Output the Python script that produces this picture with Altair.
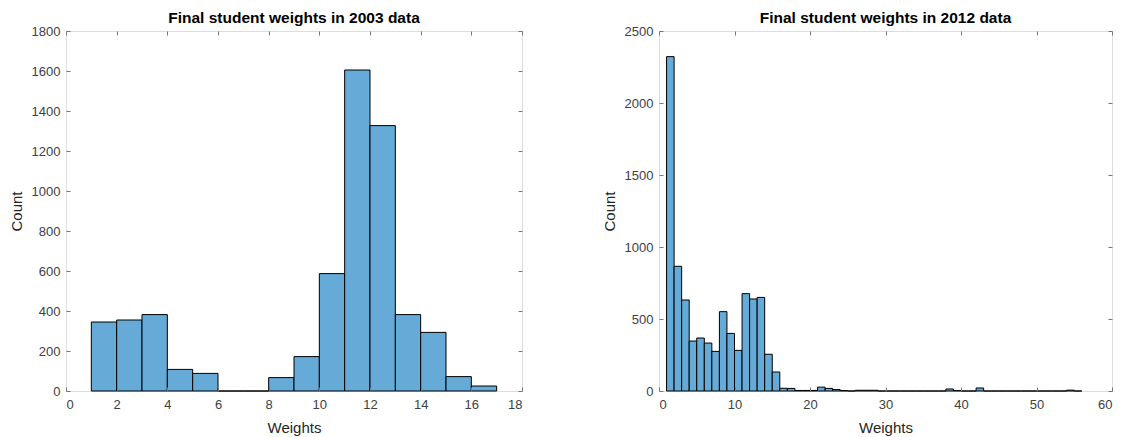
import altair as alt
import pandas as pd

# 2003 data: bin edges (width 1) and counts
bins_2003_start = [1, 2, 3, 4, 5, 6, 7, 8, 9, 10, 11, 12, 13, 14, 15, 16]
counts_2003 = [345, 355, 382, 108, 88, 0, 0, 67, 172, 587, 1605, 1327, 382, 293, 72, 25]

# 2012 data: bin edges (width 1) and counts
bins_2012_start = list(range(1, 56))
counts_2012 = [2322, 866, 632, 347, 368, 333, 275, 551, 400, 282, 676, 639, 650, 255, 132,
               19, 18, 4, 4, 4, 27, 18, 10, 3, 0, 5, 5, 5, 0, 0,
               0, 0, 0, 0, 0, 0, 0, 14, 3, 0, 0, 21, 0, 0, 0,
               0, 0, 0, 0, 0, 0, 0, 0, 6, 0]

x_ticks_2003 = list(range(0, 19, 2))
y_ticks_2003 = list(range(0, 1801, 200))
x_ticks_2012 = list(range(0, 61, 10))
y_ticks_2012 = list(range(0, 2501, 500))

df03 = pd.DataFrame({"start": bins_2003_start, "end": [b + 1 for b in bins_2003_start], "count": counts_2003})
df12 = pd.DataFrame({"start": bins_2012_start, "end": [b + 1 for b in bins_2012_start], "count": counts_2012})

FILL = "#66aad7"
TXT = "#262626"
AXC = "#777777"
TS = 4


def panel(df, xdom, ydom, xt, yt, title, w, h):
    xs = alt.Scale(domain=xdom, nice=False, zero=False)
    ys = alt.Scale(domain=ydom, nice=False)
    common_axis = dict(domain=False, tickSize=TS, offset=-TS, tickColor=AXC, zindex=1,
                       grid=False, format="d", labelFont="Liberation Sans", labelFontSize=13,
                       labelColor="#404040", titleFont="Liberation Sans", titleFontSize=15,
                       titleFontWeight="normal", titleColor=TXT)
    bars = alt.Chart(df).mark_rect(fill=FILL, stroke="#000000", strokeWidth=1).encode(
        x=alt.X("start:Q", scale=xs,
                axis=alt.Axis(orient="bottom", values=xt, title="Weights", labelPadding=7,
                              titlePadding=9, **common_axis)),
        x2="end:Q",
        y=alt.Y("count:Q", scale=ys,
                axis=alt.Axis(orient="left", values=yt, title="Count", labelPadding=6,
                              titlePadding=7, **common_axis)),
    )
    frame = alt.Chart(df).mark_rect(opacity=0).encode(
        x=alt.X("start:Q", scale=xs,
                axis=alt.Axis(orient="top", values=xt, title=None, labels=False,
                              domain=False, tickSize=TS, offset=-TS, tickColor=AXC, zindex=1)),
        x2="end:Q",
        y=alt.Y("count:Q", scale=ys,
                axis=alt.Axis(orient="right", values=yt, title=None, labels=False,
                              domain=False, tickSize=TS, offset=-TS, tickColor=AXC, zindex=1)),
    )
    return alt.layer(bars, frame).resolve_axis(x="independent", y="independent").properties(
        width=w, height=h,
        title=alt.TitleParams(title, font="Liberation Sans", fontSize=15.5, fontWeight="bold",
                              color="#000000", offset=-1, anchor="middle"),
    )


left = panel(df03, [0, 18], [0, 1800], x_ticks_2003, y_ticks_2003,
             "Final student weights in 2003 data", 456, 360)
right = panel(df12, [0, 60], [0, 2500], x_ticks_2012, y_ticks_2012,
              "Final student weights in 2012 data", 453, 360)

chart = alt.hconcat(left, right, spacing=78).properties(
    padding={"left": 0, "top": 2, "right": 0, "bottom": 0}
).configure_view(stroke=AXC, strokeWidth=1).configure(background="#ffffff")

chart.save("out.html", embed_options={"renderer": "svg", "actions": False})
